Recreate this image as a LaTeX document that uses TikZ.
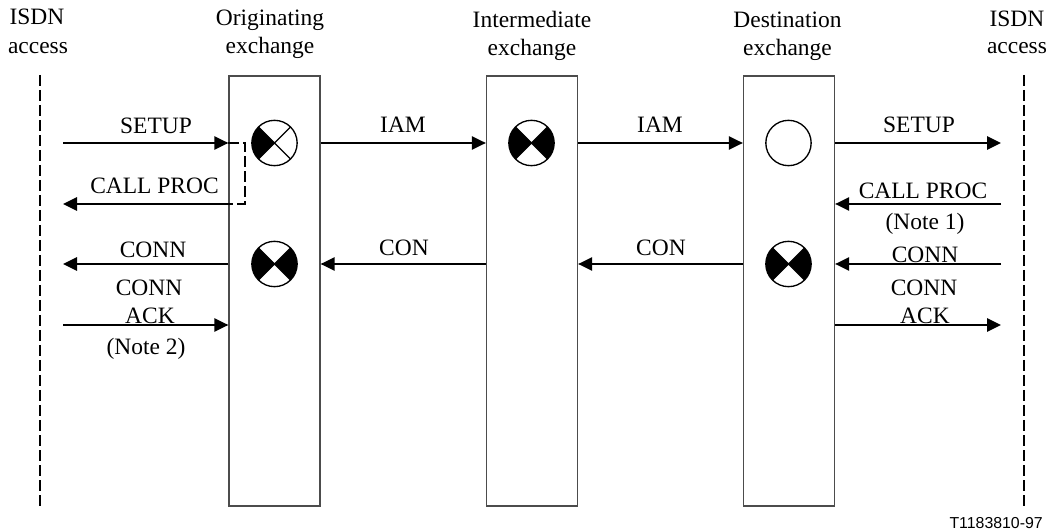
\documentclass[tikz,border=0pt]{standalone}
\usepackage{fontspec}
\setmainfont{Liberation Serif}
\newfontfamily\notefont{Liberation Sans}
\usetikzlibrary{arrows.meta}
\tikzset{
  lbl/.style={inner sep=0pt, anchor=base, font=\fontsize{17.6pt}{21.4pt}\selectfont, align=center},
  msg/.style={line width=1.3pt, -{Triangle[length=10.5pt,width=10pt]}},
  exch/.style={draw=black!70, line width=1pt, minimum width=68.25pt, minimum height=322.5pt, inner sep=0pt},
  acc/.style={line width=1.5pt, dash pattern=on 8.25pt off 3pt},
}
% marca de estado: circulo con cuadrantes
\newcommand{\statemark}[3]{%
  \begin{scope}[shift={(#1)}]
    \ifnum#2>0 \fill (0,0) -- (135:17pt) arc (135:225:17pt) -- cycle;\fi
    \ifnum#3>0 \fill (0,0) -- (-45:17pt) arc (-45:45:17pt) -- cycle;\fi
    \ifnum#2>-1 \draw[line width=1pt] (135:17pt) -- (-45:17pt) (45:17pt) -- (225:17pt);\fi
    \draw[line width=1pt] (0,0) circle (17pt);
  \end{scope}
}
\begin{document}
\begin{tikzpicture}[x=0.75pt,y=-0.75pt]
\useasboundingbox (0,0) rectangle (1051,531);

% central exchanges
\node[exch] (orig) at (274.5,291) {};
\node[exch] (inter) at (532,291) {};
\node[exch] (dest) at (789,291) {};

% access lines
\coordinate (acclt) at (40,75);
\coordinate (acclb) at (40,506);
\coordinate (accrt) at (1024,75);
\coordinate (accrb) at (1024,506);
\draw[acc] (acclt) -- (acclb);
\draw[acc] (accrt) -- (accrb);

% titles
\node[lbl] (isdnl) at (37,24.5) {ISDN};
\node[lbl] (accessl) at (38,54) {access};
\node[lbl] (titleo) at (270,26) {Originating};
\node[lbl] (exo) at (270,54) {exchange};
\node[lbl] (titlei) at (532,28) {Intermediate};
\node[lbl] (exi) at (532,56) {exchange};
\node[lbl] (titled) at (787.5,28) {Destination};
\node[lbl] (exd) at (787.5,56) {exchange};
\node[lbl] (isdnr) at (1017,27) {ISDN};
\node[lbl] (accessr) at (1017,54) {access};

% state marks
\coordinate (mo1) at (274.5,143);
\coordinate (mo2) at (274.5,264);
\coordinate (mi1) at (531.5,143);
\coordinate (md1) at (788.5,143);
\coordinate (md2) at (788.5,264);
\statemark{mo1}{1}{0}
\statemark{mo2}{1}{1}
\statemark{mi1}{1}{1}
\statemark{md1}{-1}{0}
\statemark{md2}{1}{1}

% free ends of the messages
\coordinate (ll1) at (63,143);
\coordinate (ll2) at (63,204);
\coordinate (ll3) at (63,264);
\coordinate (ll4) at (63,325);
\coordinate (rr1) at (1001,143);
\coordinate (rr2) at (1001,204);
\coordinate (rr3) at (1001,264);
\coordinate (rr4) at (1001,325);
\coordinate (turn1) at (245,143);
\coordinate (turn2) at (245,204);

% left side
\draw[msg] (ll1) -- (orig.west |- ll1);
\draw[msg] (orig.west |- ll2) -- (ll2);
\draw[msg] (orig.west |- ll3) -- (ll3);
\draw[msg] (ll4) -- (orig.west |- ll4);
\draw[line width=1.2pt, dash pattern=on 8.25pt off 3pt] (orig.west |- ll1) -- (turn1) -- (turn2) -- (orig.west |- ll2);

% between exchanges
\draw[msg] (orig.east |- ll1) -- (inter.west |- ll1);
\draw[msg] (inter.east |- ll1) -- (dest.west |- ll1);
\draw[msg] (inter.west |- ll3) -- (orig.east |- ll3);
\draw[msg] (dest.west |- ll3) -- (inter.east |- ll3);

% right side
\draw[msg] (dest.east |- ll1) -- (rr1);
\draw[msg] (rr2) -- (dest.east |- ll2);
\draw[msg] (rr3) -- (dest.east |- ll3);
\draw[msg] (dest.east |- ll4) -- (rr4);

% labels
\node[lbl] (setupl) at (156,134) {SETUP};
\node[lbl] (procl) at (154.5,194) {CALL PROC};
\node[lbl] (connl) at (153,257.5) {CONN};
\node[lbl] (conn2l) at (149,296) {CONN};
\node[lbl] (ackl) at (150,324) {ACK};
\node[lbl] (notetwo) at (146,354.5) {(Note 2)};
\node[lbl] (iam1) at (403,133) {IAM};
\node[lbl] (iam2) at (660,133) {IAM};
\node[lbl] (con1) at (404,255.5) {CON};
\node[lbl] (con2) at (661,255.5) {CON};
\node[lbl] (setupr) at (919,132.5) {SETUP};
\node[lbl] (procr) at (923,199) {CALL PROC};
\node[lbl] (noteone) at (925,230) {(Note 1)};
\node[lbl] (connr) at (925,262.5) {CONN};
\node[lbl] (conn2r) at (924,296) {CONN};
\node[lbl] (ackr) at (925,324) {ACK};
\node[inner sep=0pt, font=\notefont\fontsize{11.9pt}{14pt}\selectfont, anchor=base east] (code) at (1043,528) {T1183810-97};
\end{tikzpicture}
\end{document}
